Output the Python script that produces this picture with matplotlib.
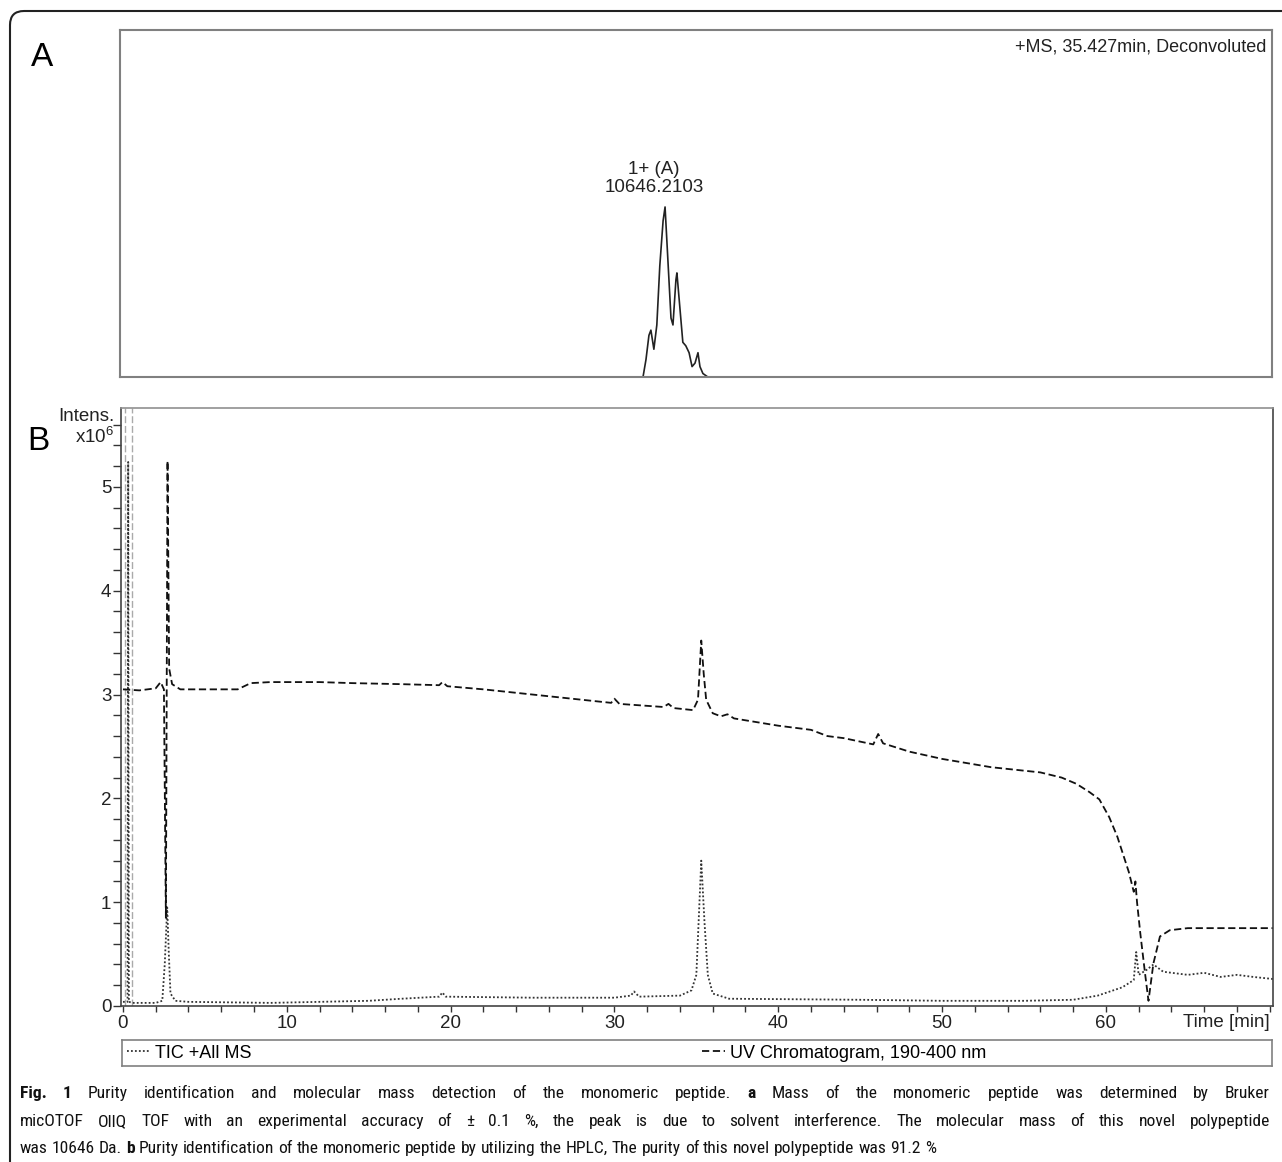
import matplotlib.pyplot as plt
from matplotlib import font_manager
from matplotlib.patches import FancyBboxPatch
from matplotlib.transforms import IdentityTransform
from matplotlib.ticker import MultipleLocator, FixedLocator

W, H = 1282, 1162

# Panel A: deconvoluted mass spectrum (+MS, 35.427 min)
mass_da = [10579, 10588, 10597, 10603, 10612, 10621, 10630, 10640, 10646, 10655, 10664, 10670,
           10679, 10682, 10691, 10700, 10709, 10719, 10728, 10737, 10746, 10752, 10761, 10776]
ms_intensity = [0, 0.05, 0.12, 0.135, 0.08, 0.15, 0.32, 0.45, 0.49, 0.33, 0.17, 0.15,
                0.28, 0.30, 0.2, 0.1, 0.09, 0.07, 0.03, 0.04, 0.07, 0.03, 0.01, 0]
peak_label = '1+ (A)\n10646.2103'

# Panel B: HPLC traces, intensity x10^6 vs time [min]
uv_time = [0.0, 1.0, 2.0, 2.3, 2.5, 2.62, 2.72, 2.82, 3.0, 3.5, 5.0, 7.0, 7.8, 9.0, 12.0, 14.0,
           17.0, 19.3, 19.5, 19.8, 22.0, 25.0, 28.0, 29.8, 30.0, 30.3, 33.0, 33.3, 33.6, 34.8,
           35.1, 35.3, 35.45, 35.6, 36.0, 36.5, 36.9, 37.3, 40.0, 42.0, 43.0, 44.0, 45.8, 46.1,
           46.4, 48.0, 50.0, 53.0, 56.0, 57.3, 58.2, 59.0, 59.6, 60.2, 60.7, 61.4, 61.7, 61.8,
           61.9, 62.1, 62.4, 62.6, 62.9, 63.3, 63.9, 65.0, 70.2]
uv_intensity = [3.05, 3.04, 3.06, 3.12, 3.05, 0.85, 5.25, 3.25, 3.1, 3.05, 3.05, 3.05, 3.11, 3.12,
                3.12, 3.11, 3.1, 3.09, 3.12, 3.08, 3.05, 3.0, 2.95, 2.92, 2.96, 2.91, 2.88, 2.91,
                2.87, 2.85, 2.95, 3.52, 3.2, 2.95, 2.82, 2.79, 2.81, 2.77, 2.7, 2.66, 2.6, 2.58,
                2.52, 2.62, 2.53, 2.45, 2.38, 2.3, 2.25, 2.2, 2.14, 2.06, 1.99, 1.82, 1.63, 1.29,
                1.1, 1.2, 1.0, 0.7, 0.3, 0.05, 0.41, 0.67, 0.73, 0.75, 0.75]

tic_time = [0.0, 0.28, 0.32, 0.36, 0.6, 2.0, 2.4, 2.55, 2.7, 2.8, 2.9, 3.2, 4.0, 9.0, 12.0, 15.0,
            17.0, 19.3, 19.5, 19.7, 25.0, 30.0, 31.0, 31.2, 31.5, 34.0, 34.7, 35.0, 35.3, 35.5,
            35.7, 36.0, 37.0, 45.0, 50.0, 55.0, 58.0, 59.5, 61.0, 61.7, 61.85, 62.0, 62.5, 62.9,
            63.5, 65.0, 66.0, 67.0, 68.0, 69.0, 70.2]
tic_intensity = [0.04, 0.04, 5.24, 0.04, 0.03, 0.03, 0.05, 0.4, 0.95, 0.5, 0.12, 0.05, 0.04, 0.03,
                 0.04, 0.05, 0.07, 0.09, 0.13, 0.09, 0.08, 0.08, 0.1, 0.14, 0.09, 0.1, 0.15, 0.3,
                 1.4, 0.8, 0.3, 0.12, 0.07, 0.06, 0.05, 0.05, 0.06, 0.1, 0.18, 0.25, 0.52, 0.3,
                 0.35, 0.4, 0.33, 0.3, 0.32, 0.28, 0.3, 0.28, 0.26]

injection_marks = [0.12, 0.53]
x_labels = [0, 10, 20, 30, 40, 50, 60]

# caption, *word* = bold; first two lines are justified
caption_lines = [
    '*Fig.* *1* Purity identification and molecular mass detection of the monomeric peptide. '
    '*a* Mass of the monomeric peptide was determined by Bruker',
    'micOTOF OllQ TOF with an experimental accuracy of \u00b1 0.1 %, the peak is due to solvent '
    'interference. The molecular mass of this novel polypeptide',
    'was 10646 Da. *b* Purity identification of the monomeric peptide by utilizing the HPLC, '
    'The purity of this novel polypeptide was 91.2 %',
]
caption_baseline = [1098, 1126, 1153]

# fonts
available = {f.name for f in font_manager.fontManager.ttflist}
caption_font = next((f for f in ['Liberation Sans Narrow', 'Roboto Condensed', 'Open Sans Condensed']
                     if f in available), 'Liberation Sans')
plt.rcParams['font.family'] = ['Liberation Sans', 'DejaVu Sans']
plt.rcParams['mathtext.default'] = 'regular'

fig = plt.figure(figsize=(W / 100, H / 100), dpi=100)

# outer rounded frame
frame = FancyBboxPatch((10, -30), 1320, H - 11 + 30, boxstyle='round,pad=0,rounding_size=14',
                       transform=IdentityTransform(), fill=False, ec='#222222', lw=1.5)
fig.add_artist(frame)

# ---- Panel A
ax_a = fig.add_axes([120 / W, 1 - 377 / H, 1152 / W, 347 / H])
ax_a.plot(mass_da, ms_intensity, color='#222222', lw=1.2)
ax_a.set_xlim(8990, 12490)
ax_a.set_ylim(0, 1)
ax_a.set_xticks([])
ax_a.set_yticks([])
for s in ax_a.spines.values():
    s.set_color('#808080')
    s.set_linewidth(1.5)
ax_a.text(0.995, 0.951, '+MS, 35.427min, Deconvoluted', transform=ax_a.transAxes,
          ha='right', va='center', fontsize=13, color='#222222')
i_peak = ms_intensity.index(max(ms_intensity))
ax_a.annotate(peak_label, xy=(mass_da[i_peak], ms_intensity[i_peak]), xytext=(-8, 8),
              textcoords='offset points', ha='center', va='bottom', fontsize=13.5,
              color='#222222', linespacing=1.1)

fig.text(31 / W, 1 - 57 / H, 'A', fontsize=24, ha='left', va='center')
fig.text(27 / W, 1 - 441 / H, 'B', fontsize=24, ha='left', va='center')

# ---- Panel B
ax_b = fig.add_axes([121 / W, 1 - 1006 / H, 1152 / W, 598 / H])
for t in injection_marks:
    ax_b.axvline(t, color='#aaaaaa', ls=(0, (5, 2)), lw=1.0)
tic_line, = ax_b.plot(tic_time, tic_intensity, ls=(0, (1, 1.2)), color='#333333', lw=1.3,
                      label='TIC +All MS')
uv_line, = ax_b.plot(uv_time, uv_intensity, ls=(0, (4, 2)), color='#111111', lw=1.3,
                     label='UV Chromatogram, 190-400 nm')
ax_b.set_xlim(-0.12, 70.2)
ax_b.set_ylim(0, 5.76)
ax_b.xaxis.set_major_locator(FixedLocator(x_labels))
ax_b.xaxis.set_minor_locator(MultipleLocator(2))
ax_b.yaxis.set_major_locator(MultipleLocator(1))
ax_b.yaxis.set_minor_locator(MultipleLocator(0.2))
ax_b.tick_params(which='both', direction='out', color='#333333', width=1.0, labelsize=13.5,
                 labelcolor='#222222')
ax_b.tick_params(axis='y', which='both', length=5.5, pad=1.5)
ax_b.tick_params(axis='x', which='both', length=4.5, pad=2)
for s in ax_b.spines.values():
    s.set_color('#444444')
    s.set_linewidth(1.2)
ax_b.spines['top'].set_color('#909090')
ax_b.text(0.9974, -0.0284, 'Time [min]', transform=ax_b.transAxes, ha='right', va='center',
          fontsize=13.5, color='#222222')
fig.text(114 / W, 1 - 417 / H, 'Intens.', ha='right', va='center', fontsize=13.5, color='#222222')
fig.text(114 / W, 1 - 437 / H, 'x10$^{6}$', ha='right', va='center', fontsize=13.5, color='#222222')

# ---- legend strip
ax_l = fig.add_axes([122 / W, 1 - 1066 / H, 1150 / W, 26 / H])
ax_l.set_xticks([])
ax_l.set_yticks([])
for s in ax_l.spines.values():
    s.set_color('#808080')
    s.set_linewidth(1.2)
leg1 = ax_l.legend(handles=[tic_line], loc='center left', bbox_to_anchor=(0.0, 0.5),
                   frameon=False, fontsize=13, handlelength=1.3, handletextpad=0.3,
                   borderaxespad=0.05, borderpad=0.2)
ax_l.add_artist(leg1)
ax_l.legend(handles=[uv_line], loc='center left', bbox_to_anchor=(0.5, 0.5), frameon=False,
            fontsize=13, handlelength=1.3, handletextpad=0.3, borderaxespad=0.05, borderpad=0.2)

# ---- caption, laid out word by word (justified like the journal layout)
renderer = fig.canvas.get_renderer()
base = 12
rows = []
for line in caption_lines:
    row = []
    for word in line.split(' '):
        bold = len(word) > 2 and word.startswith('*') and word.endswith('*')
        row.append(fig.text(0, 0, word.strip('*') if bold else word, fontsize=base,
                            family=caption_font, fontweight='bold' if bold else 'normal',
                            color='#111111', ha='left', va='baseline'))
    rows.append(row)


def width(artist):
    return artist.get_window_extent(renderer).width


probe_a = fig.text(0, 0, 'a a', fontsize=base, family=caption_font)
probe_b = fig.text(0, 0, 'aa', fontsize=base, family=caption_font)
space_w = width(probe_a) - width(probe_b)
probe_a.remove()
probe_b.remove()

last = rows[-1]
natural = sum(width(a) for a in last) + space_w * (len(last) - 1)
scale = (930 - 20) / natural
for row in rows:
    for a in row:
        a.set_fontsize(base * scale)
space_w *= scale

for i, row in enumerate(rows):
    widths = [width(a) for a in row]
    gap = (1250 - sum(widths)) / (len(row) - 1) if i < len(rows) - 1 else space_w
    x = 20
    for a, w in zip(row, widths):
        a.set_position((x / W, 1 - caption_baseline[i] / H))
        x += w + gap

fig.savefig('out.png', dpi=100)
